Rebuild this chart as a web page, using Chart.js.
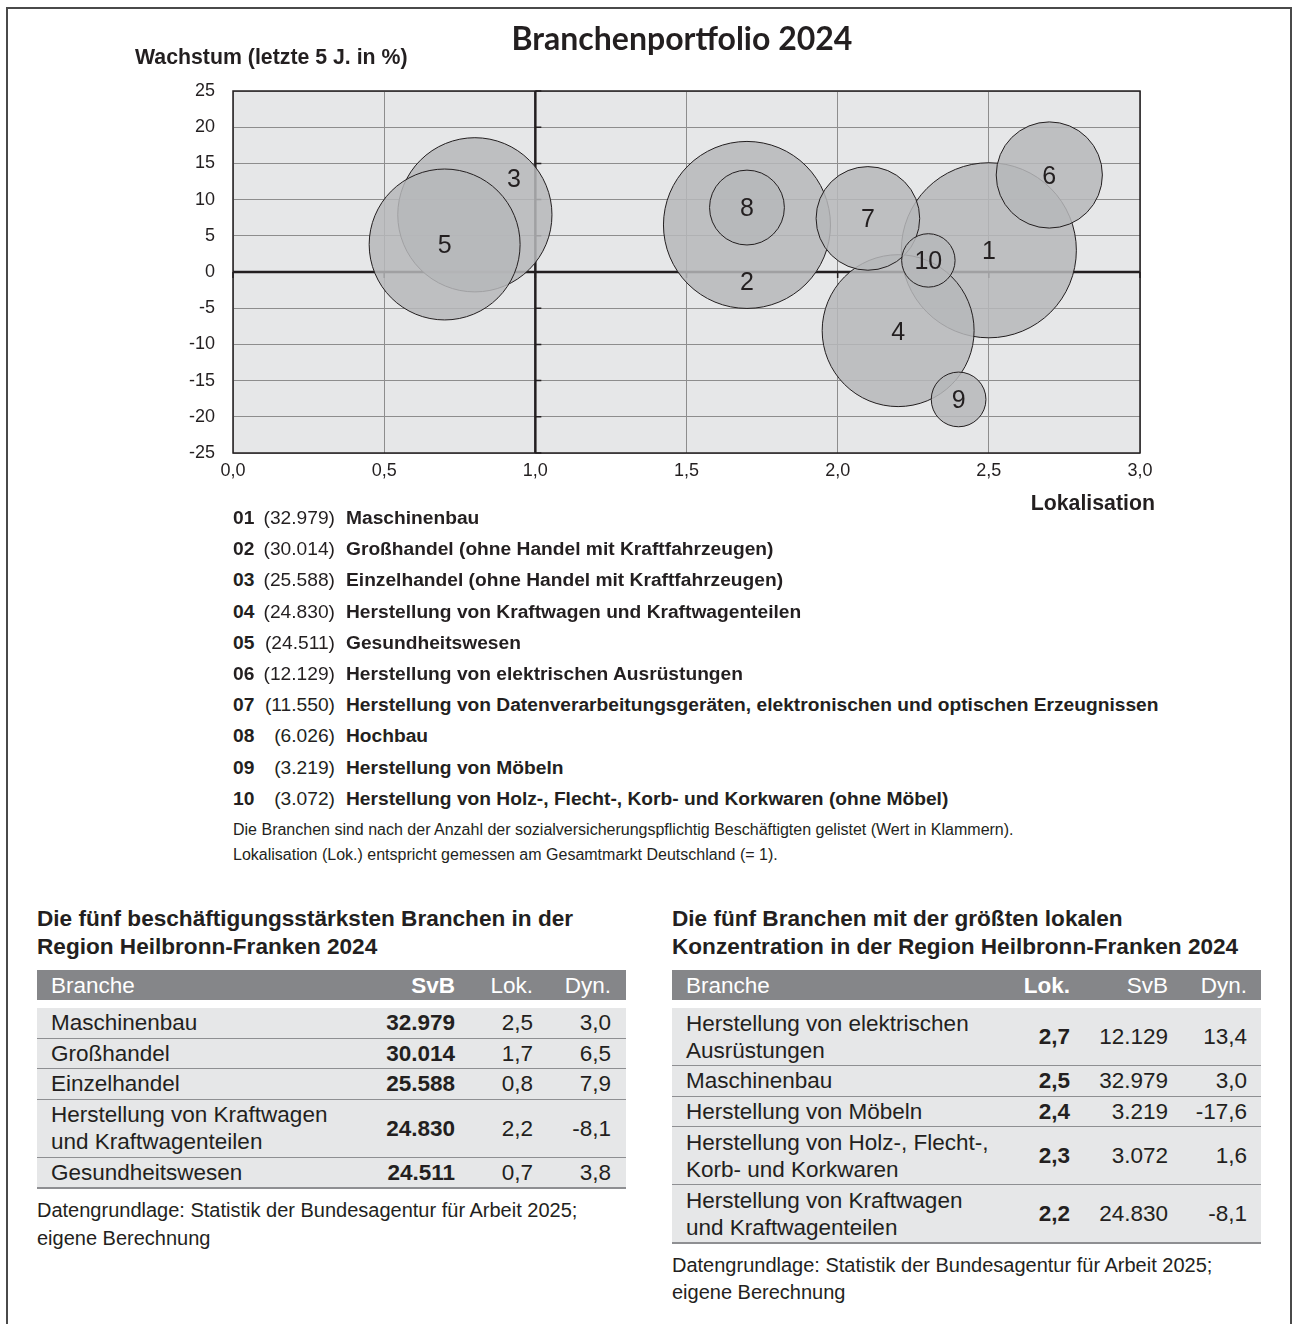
<!DOCTYPE html>
<html lang="de">
<head>
<meta charset="utf-8">
<title>Branchenportfolio 2024</title>
<script src="https://cdn.jsdelivr.net/npm/chart.js@4.4.1/dist/chart.umd.min.js"></script>
<style>
  html, body { margin: 0; padding: 0; background: #fff; }
  body { width: 1292px; height: 1324px; position: relative; overflow: hidden;
         font-family: "Liberation Sans", Arial, sans-serif; color: #231f20; }
  .frame { position: absolute; left: 6px; top: 7px; width: 1282px; height: 1330px;
           border: 2px solid #4a4a4a; border-bottom: none; }
  #chartBox { position: absolute; left: 0; top: 0; width: 1292px; height: 560px; }
  .t { position: absolute; white-space: nowrap; line-height: 1; }
  .title { left: 0; width: 1364px; text-align: center; top: 22px;
           font-family: Lato, "Open Sans", sans-serif; font-weight: 700; font-size: 32px; }
  .axt { font-weight: bold; font-size: 21.3px; }
  .leg { font-size: 19.2px; }
  .leg b { position: absolute; left: 0; }
  .note { font-size: 16px; }
  .tt { font-weight: bold; font-size: 22.6px; }
  .foot { font-size: 20px; }
  .row { position: absolute; box-sizing: border-box; background: #e6e7e8; border-bottom: 2px solid #8e8f92; }
  .head { position: absolute; background: #858689; color: #fff; }
  .cell { position: absolute; top: 0; bottom: 0; display: flex; align-items: center;
          font-size: 22.5px; line-height: 27px; white-space: nowrap; }
</style>
</head>
<body>
<div class="frame"></div>
<div id="chartBox"><canvas id="portfolioChart"></canvas></div>
<div class="t title">Branchenportfolio 2024</div>
<div class="t axt" style="left:135px; top:47px;">Wachstum (letzte 5 J. in %)</div>
<div class="t axt" style="right:137px; top:493px;">Lokalisation</div>
<div id="legend"></div>
<div class="t note" style="left:233px; top:822px;">Die Branchen sind nach der Anzahl der sozialversicherungspflichtig Beschäftigten gelistet (Wert in Klammern).</div>
<div class="t note" style="left:233px; top:847px;">Lokalisation (Lok.) entspricht gemessen am Gesamtmarkt Deutschland (= 1).</div>

<div class="t tt" style="left:37px; top:908px;">Die fünf beschäftigungsstärksten Branchen in der</div>
<div class="t tt" style="left:37px; top:936px;">Region Heilbronn-Franken 2024</div>
<div class="t tt" style="left:672px; top:908px;">Die fünf Branchen mit der größten lokalen</div>
<div class="t tt" style="left:672px; top:936px;">Konzentration in der Region Heilbronn-Franken 2024</div>
<div id="tables"></div>
<div class="t foot" style="left:37px; top:1200px;">Datengrundlage: Statistik der Bundesagentur für Arbeit 2025;</div>
<div class="t foot" style="left:37px; top:1228px;">eigene Berechnung</div>
<div class="t foot" style="left:672px; top:1255px;">Datengrundlage: Statistik der Bundesagentur für Arbeit 2025;</div>
<div class="t foot" style="left:672px; top:1282px;">eigene Berechnung</div>

<script>
// Daten
const branchen = [
  'Maschinenbau',
  'Großhandel (ohne Handel mit Kraftfahrzeugen)',
  'Einzelhandel (ohne Handel mit Kraftfahrzeugen)',
  'Herstellung von Kraftwagen und Kraftwagenteilen',
  'Gesundheitswesen',
  'Herstellung von elektrischen Ausrüstungen',
  'Herstellung von Datenverarbeitungsgeräten, elektronischen und optischen Erzeugnissen',
  'Hochbau',
  'Herstellung von Möbeln',
  'Herstellung von Holz-, Flecht-, Korb- und Korkwaren (ohne Möbel)'
]
const kurzname = [
  'Maschinenbau',
  'Großhandel',
  'Einzelhandel',
  'Herstellung von Kraftwagen<br>und Kraftwagenteilen',
  'Gesundheitswesen',
  'Herstellung von elektrischen<br>Ausrüstungen',
  'Herstellung von Datenverarbeitungsgeräten',
  'Hochbau',
  'Herstellung von Möbeln',
  'Herstellung von Holz-, Flecht-,<br>Korb- und Korkwaren'
]
const svb = [32979, 30014, 25588, 24830, 24511, 12129, 11550, 6026, 3219, 3072]
const lokalisation = [2.5, 1.7, 0.8, 2.2, 0.7, 2.7, 2.1, 1.7, 2.4, 2.3]
const wachstum = [3.0, 6.5, 7.9, -8.1, 3.8, 13.4, 7.4, 8.9, -17.6, 1.6]

const xTickLabels = ['0,0', '0,5', '1,0', '1,5', '2,0', '2,5', '3,0']
const yTickLabels = ['-25', '-20', '-15', '-10', '-5', '0', '5', '10', '15', '20', '25']

// Tabellen: Indizes in die Arrays oben
const topSvb = [0, 1, 2, 3, 4]
const topLok = [5, 0, 8, 9, 3]

const ink = '#231f20'
const fmtInt = n => String(n).replace(/\B(?=(\d{3})+(?!\d))/g, '.')
const fmtDec = v => v.toFixed(1).replace('.', ',')

// Legende unter dem Chart
const legend = document.getElementById('legend')
branchen.forEach((name, i) => {
  const row = document.createElement('div')
  row.className = 't leg'
  row.style.left = '233px'
  row.style.top = (508 + i * 31.2) + 'px'
  row.innerHTML = '<b>' + String(i + 1).padStart(2, '0') + '</b>' +
    '<span style="position:absolute; left:0; width:102px; text-align:right;">(' + fmtInt(svb[i]) + ')</span>' +
    '<b style="left:113px;">' + name + '</b>'
  legend.appendChild(row)
})

// Tabellen
function buildTable(left, width, cols, idx) {
  const box = document.getElementById('tables')
  const head = document.createElement('div')
  head.className = 'head'
  head.style.cssText += 'left:' + left + 'px; width:' + width + 'px; top:970px; height:30px;'
  cols.forEach(c => {
    const d = document.createElement('div')
    d.className = 'cell'
    d.style[c.align] = c.pos + 'px'
    if (c.bold) d.style.fontWeight = 'bold'
    d.textContent = c.title
    head.appendChild(d)
  })
  box.appendChild(head)
  let top = 1008
  idx.forEach(i => {
    const lines = kurzname[i].includes('<br>') ? 2 : 1
    const h = lines === 2 ? 58 : 30.5
    const row = document.createElement('div')
    row.className = 'row'
    row.style.cssText += 'left:' + left + 'px; width:' + width + 'px; top:' + top + 'px; height:' + (h + 1) + 'px;'
    cols.forEach(c => {
      const d = document.createElement('div')
      d.className = 'cell'
      d.style[c.align] = c.pos + 'px'
      if (c.bold) d.style.fontWeight = 'bold'
      d.innerHTML = c.value(i)
      row.appendChild(d)
    })
    box.appendChild(row)
    top += h
  })
}

buildTable(37, 589, [
  { title: 'Branche', align: 'left', pos: 14, value: i => kurzname[i] },
  { title: 'SvB', align: 'right', pos: 171, bold: true, value: i => fmtInt(svb[i]) },
  { title: 'Lok.', align: 'right', pos: 93, value: i => fmtDec(lokalisation[i]) },
  { title: 'Dyn.', align: 'right', pos: 15, value: i => fmtDec(wachstum[i]) }
], topSvb)

buildTable(672, 589, [
  { title: 'Branche', align: 'left', pos: 14, value: i => kurzname[i] },
  { title: 'Lok.', align: 'right', pos: 191, bold: true, value: i => fmtDec(lokalisation[i]) },
  { title: 'SvB', align: 'right', pos: 93, value: i => fmtInt(svb[i]) },
  { title: 'Dyn.', align: 'right', pos: 14, value: i => fmtDec(wachstum[i]) }
], topLok)

// Chart
const labelShift = { 1: [0, 56], 2: [39, -37] }

const portfolioPlugin = {
  id: 'portfolio',
  beforeDraw(chart) {
    const { ctx, chartArea: a } = chart
    ctx.save()
    ctx.fillStyle = '#e6e7e8'
    ctx.fillRect(a.left, a.top, a.right - a.left, a.bottom - a.top)
    ctx.restore()
  },
  beforeDatasetsDraw(chart) {
    const { ctx, chartArea: a, scales: { x, y } } = chart
    const x1 = x.getPixelForValue(1)
    const y0 = y.getPixelForValue(0)
    ctx.save()
    ctx.strokeStyle = ink
    ctx.lineWidth = 1.5
    ctx.strokeRect(a.left, a.top, a.right - a.left, a.bottom - a.top)
    ctx.lineWidth = 2.5
    ctx.beginPath()
    ctx.moveTo(a.left, y0); ctx.lineTo(a.right, y0)
    ctx.moveTo(x1, a.top); ctx.lineTo(x1, a.bottom)
    ctx.stroke()
    ctx.lineWidth = 1.5
    ctx.beginPath()
    y.ticks.forEach(t => {
      const py = y.getPixelForValue(t.value)
      ctx.moveTo(x1, py); ctx.lineTo(x1 + 6, py)
    })
    x.ticks.forEach(t => {
      const px = x.getPixelForValue(t.value)
      ctx.moveTo(px, y0); ctx.lineTo(px, y0 + 6)
    })
    ctx.stroke()
    ctx.restore()
  },
  afterDatasetsDraw(chart) {
    const { ctx } = chart
    const meta = chart.getDatasetMeta(0)
    ctx.save()
    ctx.fillStyle = ink
    ctx.font = '25px "Liberation Sans", Arial, sans-serif'
    ctx.textAlign = 'center'
    ctx.textBaseline = 'middle'
    meta.data.forEach((el, i) => {
      const s = labelShift[i] || [0, 0]
      ctx.fillText(String(i + 1), el.x + s[0], el.y + s[1] + 2)
    })
    ctx.restore()
  }
}

const portfolioChart = document.getElementById('portfolioChart')

new Chart(portfolioChart, {
  type: 'bubble',
  data: {
    datasets: [{
      data: lokalisation.map((v, i) => ({ x: v, y: wachstum[i] })),
      backgroundColor: 'rgba(182,183,186,0.85)',
      borderColor: ink,
      borderWidth: 1,
      radius: ctx => 0.482 * Math.sqrt(svb[ctx.dataIndex])
    }]
  },
  options: {
    responsive: true,
    maintainAspectRatio: false,
    animation: false,
    events: [],
    layout: { padding: { left: 183, right: 152, top: 91, bottom: 77 } },
    plugins: { legend: { display: false }, tooltip: { enabled: false } },
    scales: {
      x: {
        type: 'linear', min: 0, max: 3,
        afterFit: s => { s.height = 30 },
        grid: { color: '#8d8d8d', lineWidth: 1, drawTicks: false },
        border: { display: false },
        ticks: {
          stepSize: 0.5, padding: 7, color: ink,
          font: { family: '"Liberation Sans", Arial, sans-serif', size: 18 },
          callback: (v, i) => xTickLabels[i]
        }
      },
      y: {
        type: 'linear', min: -25, max: 25,
        afterFit: s => { s.width = 50 },
        grid: { color: '#8d8d8d', lineWidth: 1, drawTicks: false },
        border: { display: false },
        ticks: {
          stepSize: 5, padding: 18, color: ink,
          font: { family: '"Liberation Sans", Arial, sans-serif', size: 18 },
          callback: (v, i) => yTickLabels[i]
        }
      }
    }
  },
  plugins: [portfolioPlugin]
})
</script>
</body>
</html>
